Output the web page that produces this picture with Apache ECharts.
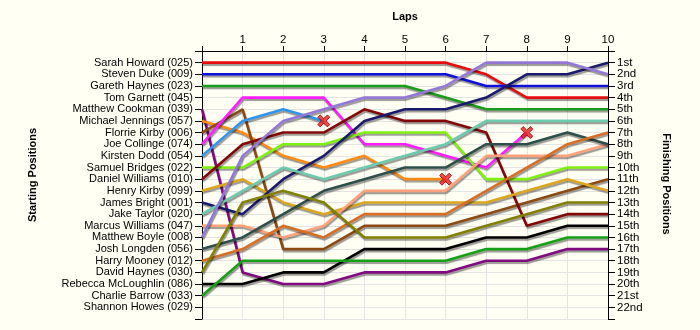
<!DOCTYPE html>
<html>
<head>
<meta charset="utf-8">
<script src="https://cdn.jsdelivr.net/npm/echarts@6/dist/echarts.min.js"></script>
<style>
html,body{margin:0;padding:0;background:#fffff4;}
#chart{width:700px;height:330px;}
</style>
</head>
<body>
<div id="chart"></div>
<script>
const laps = [0,1,2,3,4,5,6,7,8,9,10];
const startLabels = ['Sarah Howard (025)','Steven Duke (009)','Gareth Haynes (023)','Tom Garnett (045)','Matthew Cookman (039)','Michael Jennings (057)','Florrie Kirby (006)','Joe Collinge (074)','Kirsten Dodd (054)','Samuel Bridges (022)','Daniel Williams (010)','Henry Kirby (099)','James Bright (001)','Jake Taylor (020)','Marcus Williams (047)','Matthew Boyle (008)','Josh Longden (056)','Harry Mooney (012)','David Haynes (030)','Rebecca McLoughlin (086)','Charlie Barrow (033)','Shannon Howes (029)'];
const finishLabels = ['1st','2nd','3rd','4th','5th','6th','7th','8th','9th','10th','11th','12th','13th','14th','15th','16th','17th','18th','19th','20th','21st','22nd'];

// position at each lap (index = lap); shorter arrays = retired
const sarahHoward       = [1,1,1,1,1,1,1,2,4,4,4];
const stevenDuke        = [2,2,2,2,2,2,2,3,3,3,3];
const garethHaynes      = [3,3,3,3,3,3,4,5,5,5,5];
const tomGarnett        = [];
const matthewCookman    = [5,19,20,20,19,19,19,18,18,17,17];
const michaelJennings   = [6,7,9,10,9,11,11];
const florrieKirby      = [7,5,17,17,15,15,15,14,13,12,11];
const joeCollinge       = [8,4,4,4,8,8,9,10,7];
const kirstenDodd       = [9,6,5,6];
const samuelBridges     = [10,10,8,8,7,7,7,11,11,10,10];
const danielWilliams    = [11,8,7,7,5,6,6,7,15,14,14];
const henryKirby        = [12,11,13,14,13,13,13,13,12,11,12];
const jamesBright       = [13,14,11,9,6,5,5,4,2,2,1];
const jakeTaylor        = [14,12,10,11,10,9,8,6,6,6,6];
const marcusWilliams    = [15,15,16,15,12,12,12,9,9,9,8];
const matthewBoyle      = [16,9,6,5,4,4,3,1,1,1,2];
const joshLongden       = [17,16,14,12,11,10,10,8,8,7,8];
const harryMooney       = [18,17,15,16,14,14,14,12,10,8,7];
const davidHaynes       = [19,13,12,13,16,16,16,15,14,13,13];
const rebeccaMcLoughlin = [20,20,19,19,17,17,17,16,16,15,15];
const charlieBarrow     = [21,18,18,18,18,18,18,17,17,16,16];
const shannonHowes      = [];

const driverData = [sarahHoward,stevenDuke,garethHaynes,tomGarnett,matthewCookman,michaelJennings,florrieKirby,joeCollinge,kirstenDodd,samuelBridges,danielWilliams,henryKirby,jamesBright,jakeTaylor,marcusWilliams,matthewBoyle,joshLongden,harryMooney,davidHaynes,rebeccaMcLoughlin,charlieBarrow,shannonHowes];
const colors = ['#e80c0c','#1010dc','#1c9c1c','#888888','#800a80','#ff8a14','#8b4a12','#ff1cff','#3096ec','#80f010','#820808','#dca620','#1a1a6c','#6ccaae','#ffa27c','#9478d8','#2e4e4a','#d66e26','#828000','#000000','#16a016','#888888'];

const series = [];
const crosses = [];
driverData.forEach((arr, i) => {
  if (!arr.length) return;
  series.push({
    type:'line', name:startLabels[i], symbol:'none', animation:false,
    data: arr.map((p, k) => [laps[k], p]),
    lineStyle:{color:colors[i], width:2.6, shadowColor:'rgba(0,0,0,0.4)', shadowOffsetX:1, shadowOffsetY:2, shadowBlur:1},
    itemStyle:{color:colors[i]}, z:2
  });
  if (arr.length < laps.length) crosses.push([laps[arr.length-1], arr[arr.length-1]]);
});
series.push({
  type:'scatter', animation:false, z:5,
  symbol:'path://M2,0 L5,3 L8,0 L10,2 L7,5 L10,8 L8,10 L5,7 L2,10 L0,8 L3,5 L0,2 Z',
  symbolSize:12, data:crosses,
  itemStyle:{color:'#ee1c1c', borderColor:'#8a0000', borderWidth:1}
});

const chart = echarts.init(document.getElementById('chart'), null, {renderer:'canvas'});
const font = 'Liberation Sans, Arial, sans-serif';
chart.setOption({
  backgroundColor:'#fffff4',
  animation:false,
  grid:{left:202, right:92, top:51, bottom:11},
  xAxis:{
    type:'value', position:'top', min:0, max:10, interval:1,
    axisLine:{show:true, lineStyle:{color:'#000', width:1}},
    axisTick:{show:true, length:5, lineStyle:{color:'#000'}},
    axisLabel:{margin:5, color:'#000', fontSize:11.5, fontFamily:font, formatter:v => v === 0 ? '' : String(v)},
    splitLine:{show:true, lineStyle:{color:'#e4e4e4', width:1}}
  },
  yAxis:[{
    type:'value', position:'left', min:0, max:23, interval:1, inverse:true,
    axisLine:{show:true, lineStyle:{color:'#000'}},
    axisTick:{show:true, length:7, lineStyle:{color:'#000'}},
    axisLabel:{margin:9, color:'#000', fontSize:11, fontFamily:font, formatter:v => startLabels[v-1] || ''},
    splitLine:{show:true, lineStyle:{color:'#e4e4e4', width:1}}
  },{
    type:'value', position:'right', min:0, max:23, interval:1, inverse:true,
    axisLine:{show:true, lineStyle:{color:'#000'}},
    axisTick:{show:true, length:7, lineStyle:{color:'#000'}},
    axisLabel:{margin:9, color:'#000', fontSize:11.5, fontFamily:font, formatter:v => finishLabels[v-1] || ''},
    splitLine:{show:false}
  }],
  graphic:[
    {type:'text', x:405, y:17, style:{text:'Laps', font:'bold 11px '+font, fill:'#000', textAlign:'center', textVerticalAlign:'middle', verticalAlign:'middle'}},
    {type:'text', x:33, y:175, rotation:Math.PI/2, style:{text:'Starting Positions', font:'bold 11px '+font, fill:'#000', textAlign:'center', textVerticalAlign:'middle', verticalAlign:'middle'}},
    {type:'text', x:666, y:184, rotation:-Math.PI/2, style:{text:'Finishing Positions', font:'bold 11px '+font, fill:'#000', textAlign:'center', textVerticalAlign:'middle', verticalAlign:'middle'}}
  ],
  series: series
});
</script>
</body>
</html>
